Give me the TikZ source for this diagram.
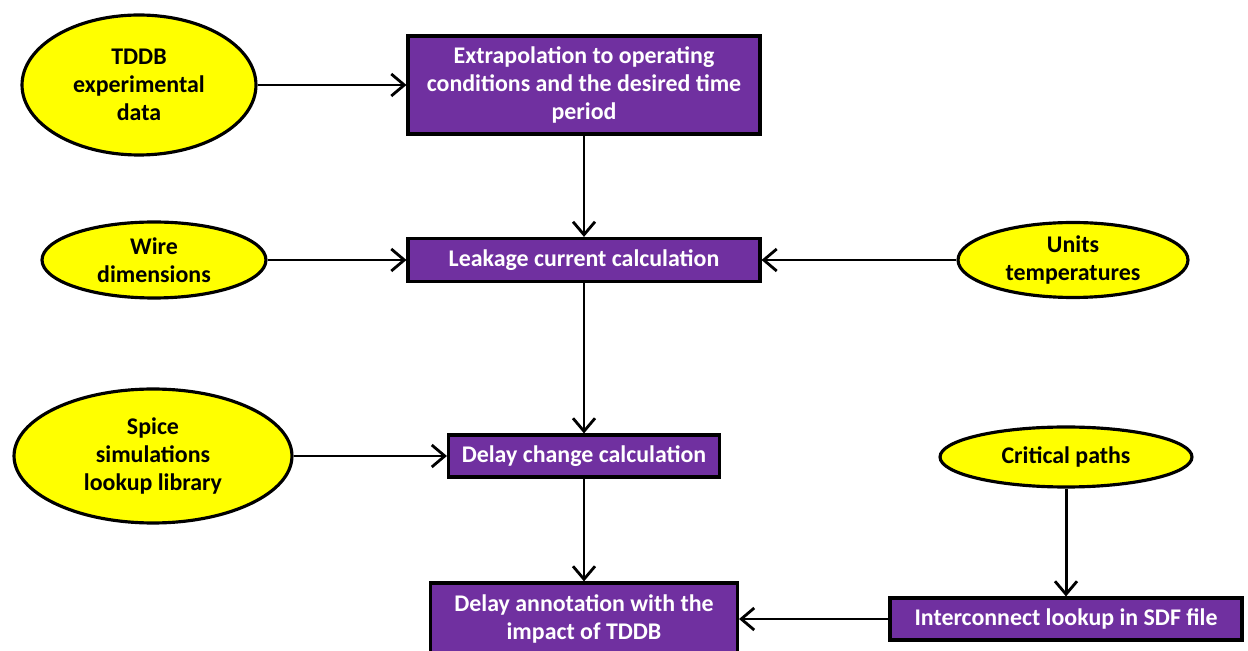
\documentclass[tikz,border=0pt]{standalone}
\usepackage{fontspec}
\setmainfont{Carlito}
\usetikzlibrary{shapes.geometric}
\usetikzlibrary{arrows.meta}
\definecolor{boxpurple}{HTML}{7030A0}
\definecolor{ovalyellow}{HTML}{FFFF00}
\tikzset{>={Straight Barb[length=2.6mm,width=4.4mm,line width=1.6pt]}}
\tikzset{
  oval/.style={ellipse, draw, line width=1.8pt, fill=ovalyellow, inner sep=0pt,
    align=center, font=\bfseries\fontsize{13.6}{16}\selectfont},
  stepbox/.style={rectangle, draw, line width=1.8pt, fill=boxpurple, text=white,
    inner sep=0pt, align=center, font=\bfseries\fontsize{13.6}{16}\selectfont},
  flow/.style={->, line width=1.7pt}
}

\begin{document}
\begin{tikzpicture}[x=0.02cm, y=-0.02cm]
\useasboundingbox (0, 0) rectangle (1248, 651);
% inputs
\node[oval, minimum width=4.68cm, minimum height=2.8cm] (tddb) at (139, 85) {TDDB\\experimental\\data};
\node[oval, minimum width=4.48cm, minimum height=1.52cm] (wire) at (154, 260) {Wire\\dimensions};
\node[oval, minimum width=4.6cm, minimum height=1.5cm] (units) at (1073, 260) {Units\\temperatures};
\node[oval, minimum width=5.56cm, minimum height=2.68cm] (spice) at (153, 456) {Spice\\simulations\\lookup library};
\node[oval, minimum width=5.04cm, minimum height=1.2cm] (crit) at (1066, 457) {Critical paths};
% steps
\node[stepbox, minimum width=7.04cm, minimum height=1.96cm] (extrap) at (584, 85) {Extrapolation to operating\\conditions and the desired time\\period};
\node[stepbox, minimum width=7.04cm, minimum height=0.86cm] (leak) at (584, 260) {Leakage current calculation};
\node[stepbox, minimum width=5.42cm, minimum height=0.84cm] (dchange) at (584, 456) {Delay change calculation};
\node[stepbox, minimum width=7.04cm, minimum height=0.84cm] (lookup) at (1066, 619) {Interconnect lookup in SDF file};
\node[stepbox, minimum width=6.14cm, minimum height=1.44cm] (annot) at (584, 619) {Delay annotation with the\\impact of TDDB};
% connectors
\draw[flow] (tddb) -- (extrap);
\draw[flow] (extrap) -- (leak);
\draw[flow] (wire) -- (leak);
\draw[flow] (units) -- (leak);
\draw[flow] (leak) -- (dchange);
\draw[flow] (spice) -- (dchange);
\draw[flow] (dchange) -- (annot);
\draw[flow] (crit) -- (lookup);
\draw[flow] (lookup) -- (annot);
\end{tikzpicture}
\end{document}
